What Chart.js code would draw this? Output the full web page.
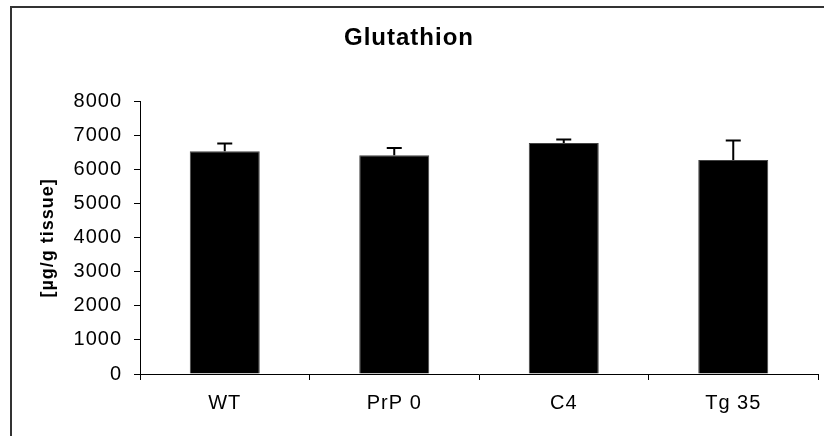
<!DOCTYPE html>
<html>
<head>
<meta charset="utf-8">
<script src="https://cdn.jsdelivr.net/npm/chart.js@4/dist/chart.umd.min.js"></script>
<style>
  html, body { margin: 0; padding: 0; background: #fff; }
  #wrap { width: 824px; height: 436px; }
</style>
</head>
<body>
<div id="wrap"><canvas id="chart" width="824" height="436"></canvas></div>
<script>
var categories = ["WT", "PrP 0", "C4", "Tg 35"];
var meanValues = [6550, 6430, 6790, 6290];
var errorValues = [225, 215, 105, 570];
var yTicks = [0, 1000, 2000, 3000, 4000, 5000, 6000, 7000, 8000];

var FONT = "'Liberation Sans', Arial, sans-serif";

// outer frame like the original sheet, and the slightly wide lettering
var framePlugin = {
    id: "frame",
    beforeDraw: function (chart) {
        var ctx = chart.ctx;
        ctx.letterSpacing = "1px";
        ctx.save();
        ctx.fillStyle = "#fff";
        ctx.fillRect(0, 0, chart.width, chart.height);
        ctx.strokeStyle = "#333";
        ctx.lineWidth = 2;
        ctx.strokeRect(11, 7, 900, 600);
        ctx.restore();
    }
};

// upward error bars
var errorBarPlugin = {
    id: "errorBars",
    afterDatasetsDraw: function (chart) {
        var ctx = chart.ctx;
        var meta = chart.getDatasetMeta(0);
        var yScale = chart.scales.y;
        ctx.save();
        ctx.strokeStyle = "#000";
        ctx.lineWidth = 2;
        meta.data.forEach(function (bar, i) {
            var x = bar.x;
            var yTop = yScale.getPixelForValue(meanValues[i] + errorValues[i]);
            ctx.beginPath();
            ctx.moveTo(x, bar.y);
            ctx.lineTo(x, yTop);
            ctx.moveTo(x - 7.5, yTop);
            ctx.lineTo(x + 7.5, yTop);
            ctx.stroke();
        });
        ctx.restore();
    }
};

var ctx = document.getElementById("chart").getContext("2d");
var myChart = new Chart(ctx, {
    type: "bar",
    data: {
        labels: categories,
        datasets: [{
            data: meanValues,
            backgroundColor: "#000",
            borderColor: "#444",
            borderWidth: 1,
            barPercentage: 0.413,
            categoryPercentage: 1.0
        }]
    },
    options: {
        responsive: false,
        animation: false,
        layout: { padding: { left: 0, right: 6, top: 0, bottom: 0 } },
        plugins: {
            legend: { display: false },
            tooltip: { enabled: false },
            title: {
                display: true,
                text: "Glutathion",
                color: "#000",
                font: { family: FONT, size: 24, weight: "bold" },
                padding: { top: 24, bottom: 49 }
            }
        },
        scales: {
            x: {
                grid: {
                    drawOnChartArea: false,
                    drawTicks: true,
                    tickLength: 6,
                    color: "#000",
                    offset: true
                },
                border: { display: true, color: "#000", width: 1 },
                ticks: {
                    color: "#000",
                    font: { family: FONT, size: 20 },
                    padding: 11
                },
                afterFit: function (scale) { scale.height = 62; }
            },
            y: {
                min: 0,
                max: 8000,
                afterBuildTicks: function (scale) {
                    scale.ticks = yTicks.map(function (v) { return { value: v }; });
                },
                grid: {
                    drawOnChartArea: false,
                    drawTicks: true,
                    tickLength: 6,
                    color: "#000"
                },
                border: { display: true, color: "#000", width: 1 },
                ticks: {
                    color: "#000",
                    font: { family: FONT, size: 20 },
                    padding: 12,
                    callback: function (v) { return String(v); }
                },
                title: {
                    display: true,
                    text: "[µg/g tissue]",
                    color: "#000",
                    font: { family: FONT, size: 18, weight: "bold" },
                    padding: { top: 37, bottom: 0 }
                },
                afterFit: function (scale) { scale.width = 140; }
            }
        }
    },
    plugins: [framePlugin, errorBarPlugin]
});
</script>
</body>
</html>
